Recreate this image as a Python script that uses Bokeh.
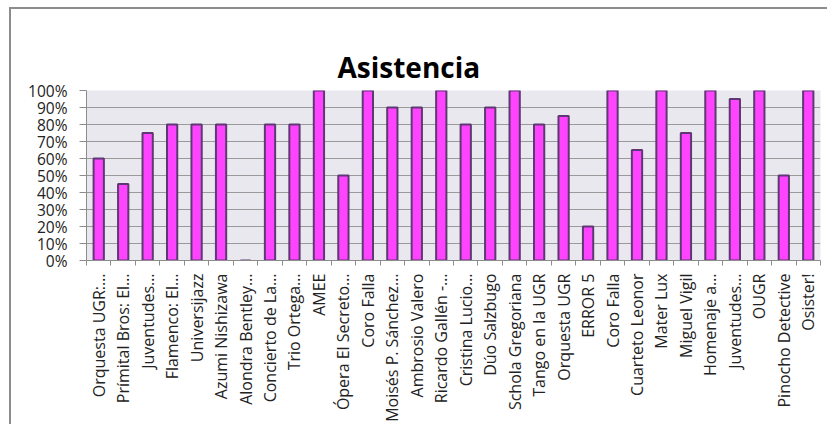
import math
from bokeh.plotting import figure
from bokeh.models import Range1d, FixedTicker, NumeralTickFormatter
from bokeh.embed import file_html
from bokeh.resources import INLINE

categories = [
    "Orquesta UGR:…", "Prímital Bros: El…", "Juventudes…", "Flamenco: El…",
    "Universijazz", "Azumi Nishizawa", "Alondra Bentley…", "Concierto de La…",
    "Trio Ortega…", "AMEE", "Ópera El Secreto…", "Coro Falla",
    "Moisés P. Sánchez…", "Ambrosio Valero", "Ricardo Gallén -…", "Cristina Lucio…",
    "Dúo Salzbugo", "Schola Gregoriana", "Tango en la UGR", "Orquesta UGR",
    "ERROR 5", "Coro Falla", "Cuarteto Leonor", "Mater Lux",
    "Miguel Vigil", "Homenaje a…", "Juventudes…", "OUGR",
    "Pinocho Detective", "Osister!",
]
asistencia = [
    0.60, 0.45, 0.75, 0.80, 0.80, 0.80, 0.00, 0.80, 0.80, 1.00,
    0.50, 1.00, 0.90, 0.90, 1.00, 0.80, 0.90, 1.00, 0.80, 0.85,
    0.20, 1.00, 0.65, 1.00, 0.75, 1.00, 0.95, 1.00, 0.50, 1.00,
]
y_ticks = [0.0, 0.1, 0.2, 0.3, 0.4, 0.5, 0.6, 0.7, 0.8, 0.9, 1.0]

n = len(categories)
xs = list(range(1, n + 1))

p = figure(
    width=818, height=417,
    output_backend="svg", toolbar_location=None,
    x_range=Range1d(0.5, n + 0.5), y_range=Range1d(0, 1),
    min_border_left=75, min_border_right=9, min_border_top=81, min_border_bottom=166,
)
p.styles = {
    "border-left": "2px solid #8c8c8c", "border-top": "2px solid #8c8c8c",
    "margin-left": "9px", "margin-top": "7px",
}

p.title.text = "Asistencia"
p.title.text_font = "Open Sans"
p.title.text_font_style = "bold"
p.title.text_font_size = "28px"
p.title.text_color = "#000000"
p.title.align = "left"
p.title.offset = 251
p.title.standoff = 9

p.background_fill_color = "#EAE8EF"
p.border_fill_color = "#FFFFFF"
p.outline_line_color = None

p.vbar(x=xs, top=asistencia, width=0.42, bottom=0,
       fill_color="#FF44FF", line_color="#5E3873", line_width=2)

# y axis
p.yaxis.ticker = FixedTicker(ticks=y_ticks)
p.yaxis.formatter = NumeralTickFormatter(format="0%")
p.yaxis.major_label_text_font = "Open Sans"
p.yaxis.major_label_text_font_size = "15.5px"
p.yaxis.major_label_text_color = "#222222"
p.yaxis.axis_line_color = "#8c8c8c"
p.yaxis.major_tick_line_color = "#8c8c8c"
p.yaxis.major_tick_in = 0
p.yaxis.major_tick_out = 7
p.yaxis.minor_tick_line_color = None
p.yaxis.major_label_standoff = 12

# x axis
p.xaxis.ticker = FixedTicker(ticks=xs, minor_ticks=[i + 0.5 for i in range(0, n + 1)])
p.xaxis.major_label_overrides = {i + 1: c for i, c in enumerate(categories)}
p.xaxis.major_label_orientation = math.pi / 2
p.xaxis.major_label_text_font = "Open Sans"
p.xaxis.major_label_text_font_size = "16px"
p.xaxis.major_label_text_color = "#222222"
p.xaxis.axis_line_color = "#8c8c8c"
p.xaxis.major_tick_line_color = None
p.xaxis.minor_tick_line_color = "#8c8c8c"
p.xaxis.minor_tick_in = 0
p.xaxis.minor_tick_out = 5
p.xaxis.major_label_standoff = 7

p.xgrid.grid_line_color = None
p.ygrid.grid_line_color = "#9a9a9a"
p.ygrid.grid_line_width = 1

open("out.html", "w").write(file_html(p, INLINE))
